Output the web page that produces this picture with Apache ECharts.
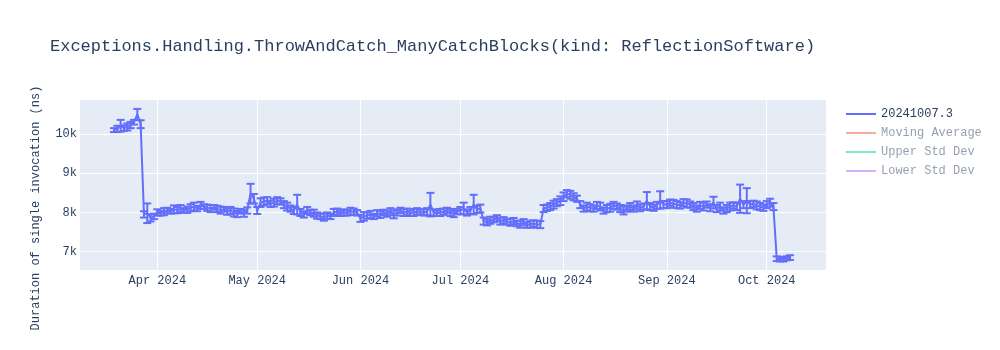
<!DOCTYPE html>
<html>
<head>
<meta charset="utf-8">
<script src="https://cdn.jsdelivr.net/npm/echarts@6/dist/echarts.min.js"></script>
<style>
html,body{margin:0;padding:0;background:#fff;}
#chart{width:1000px;height:350px;}
</style>
</head>
<body>
<div id="chart"></div>
<script>
// ---- data ----
const titleText = 'Exceptions.Handling.ThrowAndCatch_ManyCatchBlocks(kind: ReflectionSoftware)';
const yAxisTitle = 'Duration of single invocation (ns)';
const seriesName = '20241007.3';
const legendNames = ['20241007.3', 'Moving Average', 'Upper Std Dev', 'Lower Std Dev'];
const startDate = [2024, 2, 19]; // first day of the series (Mar 19 2024), one value per day

// Mar 19 - Mar 31
const valuesMar = [10100, 10130, 10210, 10150, 10180, 10230, 10300, 10500, 10250, 7950, 7980, 7860, 7900];
const errMar    = [50, 80, 150, 70, 90, 80, 60, 140, 100, 80, 250, 90, 70];
// Apr
const valuesApr = [8000, 7980, 8020, 8050, 8030, 8080, 8060, 8100, 8050, 8070, 8120, 8150, 8100, 8180, 8150,
                   8120, 8100, 8130, 8090, 8060, 8080, 8020, 8050, 8000, 7960, 8030, 7980, 8050, 8480, 8350];
const errApr    = [80, 60, 90, 70, 60, 100, 80, 90, 60, 80, 90, 100, 70, 90, 60,
                   80, 90, 60, 80, 90, 60, 80, 90, 100, 80, 60, 90, 80, 250, 120];
// May
const valuesMay = [8050, 8250, 8280, 8300, 8220, 8250, 8300, 8280, 8200, 8150, 8100, 8050, 8200, 8000, 7950, 8050,
                   8000, 7980, 7920, 7900, 7880, 7920, 7900, 8000, 8020, 7980, 8000, 7990, 8030, 8020, 7990];
const errMay    = [90, 110, 100, 90, 80, 100, 90, 80, 90, 100, 80, 90, 250, 90, 80, 90,
                   70, 90, 80, 70, 90, 80, 70, 90, 80, 70, 80, 70, 90, 80, 70];
// Jun
const valuesJun = [7850, 7900, 7920, 7950, 7900, 7980, 7950, 8000, 7970, 8020, 7950, 8000, 8050, 8000, 8020,
                   7980, 8000, 8030, 8010, 8000, 8020, 8200, 8000, 7980, 8000, 8020, 8050, 8000, 7960, 8020];
const errJun    = [90, 110, 80, 90, 70, 80, 90, 70, 80, 90, 100, 80, 70, 90, 80,
                   70, 90, 80, 70, 80, 90, 300, 80, 70, 90, 80, 70, 90, 80, 70];
// Jul
const valuesJul = [8050, 8100, 8000, 8050, 8200, 8080, 8100, 7780, 7750, 7800, 7820, 7850, 7780, 7800, 7760, 7750,
                   7780, 7720, 7700, 7750, 7680, 7700, 7720, 7700, 7690, 8100, 8120, 8150, 8200, 8250, 8300];
const errJul    = [90, 150, 80, 90, 250, 90, 100, 90, 80, 90, 70, 80, 90, 80, 70, 90,
                   80, 70, 90, 80, 70, 90, 80, 90, 90, 90, 80, 90, 100, 90, 110];
// Aug
const valuesAug = [8400, 8480, 8450, 8400, 8350, 8200, 8100, 8150, 8120, 8100, 8180, 8150, 8050, 8100, 8120, 8180,
                   8150, 8100, 8050, 8100, 8150, 8100, 8180, 8120, 8150, 8300, 8150, 8120, 8180, 8320, 8200];
const errAug    = [110, 90, 100, 90, 80, 90, 80, 100, 90, 80, 90, 100, 80, 90, 100, 90,
                   80, 90, 100, 80, 90, 80, 100, 90, 80, 220, 90, 80, 90, 220, 90];
// Sep
const valuesSep = [8200, 8250, 8220, 8200, 8180, 8250, 8230, 8200, 8150, 8100, 8180, 8150, 8200, 8120, 8250,
                   8100, 8150, 8050, 8100, 8150, 8180, 8150, 8350, 8200, 8300, 8200, 8220, 8180, 8150, 8120];
const errSep    = [90, 80, 100, 90, 80, 90, 100, 80, 90, 80, 90, 100, 80, 90, 150,
                   90, 100, 80, 90, 100, 80, 90, 360, 90, 320, 90, 80, 100, 90, 80];
// Oct 1 - Oct 8
const valuesOct = [8200, 8250, 8150, 6820, 6800, 6810, 6830, 6850];
const errOct    = [90, 100, 90, 60, 50, 60, 50, 60];

const yTicks = [7000, 8000, 9000, 10000];

// ---- build ----
const values = [].concat(valuesMar, valuesApr, valuesMay, valuesJun, valuesJul, valuesAug, valuesSep, valuesOct);
const errs = [].concat(errMar, errApr, errMay, errJun, errJul, errAug, errSep, errOct);
function pad(n){return (n<10?'0':'')+n;}
const dates = values.map((v, i) => {
  const d = new Date(startDate[0], startDate[1], startDate[2] + i);
  return d.getFullYear() + '-' + pad(d.getMonth()+1) + '-' + pad(d.getDate());
});
const lineData = values.map((v, i) => [dates[i], v]);
const errData = values.map((v, i) => [dates[i], v, errs[i]]);

const FONT = '"Liberation Mono", "Courier New", monospace';
const TXT = '#2a3f5f';
const MONTHS = ['Jan','Feb','Mar','Apr','May','Jun','Jul','Aug','Sep','Oct','Nov','Dec'];

const chart = echarts.init(document.getElementById('chart'), null, {renderer: 'canvas'});
chart.setOption({
  animation: false,
  textStyle: {fontFamily: FONT},
  title: {
    text: titleText, left: 45, top: 33,
    textStyle: {fontFamily: FONT, fontSize: 17, fontWeight: 'normal', color: TXT}
  },
  legend: {
    orient: 'vertical', left: 846, top: 107, padding: 0,
    itemWidth: 30, itemHeight: 2, itemGap: 5, icon: 'rect',
    textStyle: {fontFamily: FONT, fontSize: 12, color: TXT, lineHeight: 14, padding: [0,0,0,0]},
    data: [
      {name: legendNames[0]},
      {name: legendNames[1], textStyle: {color: 'rgba(42,63,95,0.5)'}},
      {name: legendNames[2], textStyle: {color: 'rgba(42,63,95,0.5)'}},
      {name: legendNames[3], textStyle: {color: 'rgba(42,63,95,0.5)'}}
    ],
    selectedMode: false
  },
  grid: {left: 80, right: 174, top: 100, bottom: 80, show: true, backgroundColor: '#e5ecf6', borderWidth: 0},
  xAxis: {
    type: 'time',
    min: new Date(2024, 2, 8, 19).getTime(),
    max: new Date(2024, 9, 18, 19).getTime(),
    minInterval: 28 * 86400000,
    axisLine: {show: false}, axisTick: {show: false},
    splitLine: {show: true, lineStyle: {color: '#fff', width: 1}, showMinLine: false, showMaxLine: false},
    axisLabel: {
      fontFamily: FONT, fontSize: 12, color: TXT, margin: 5,
      formatter: function (val) {
        const d = new Date(val);
        if (d.getDate() !== 1) return '';
        return MONTHS[d.getMonth()] + ' ' + d.getFullYear();
      }
    }
  },
  yAxis: {
    type: 'value', min: 6533, max: 10867,
    name: yAxisTitle, nameLocation: 'middle', nameRotate: 90, nameGap: 38,
    nameTextStyle: {fontFamily: FONT, fontSize: 12, color: TXT, padding: [0, 46, 0, 0]},
    axisLine: {show: false}, axisTick: {show: false},
    splitLine: {show: true, lineStyle: {color: '#fff', width: 1}, showMinLine: false, showMaxLine: false},
    axisLabel: {
      fontFamily: FONT, fontSize: 12, color: TXT, margin: 3, showMinLabel: false, showMaxLabel: false,
      formatter: function (v) { return yTicks.indexOf(v) >= 0 ? (v/1000) + 'k' : ''; }
    }
  },
  series: [
    {
      name: seriesName, type: 'line', data: lineData, showSymbol: false, symbol: 'none',
      lineStyle: {color: '#636efa', width: 2}, itemStyle: {color: '#636efa'}, z: 3
    },
    {
      type: 'custom', name: 'errors', data: errData, encode: {x: 0, y: 1}, clip: true, z: 2,
      renderItem: function (params, api) {
        const x = api.value(0), y = api.value(1), e = api.value(2);
        const lo = api.coord([x, y - e]);
        const hi = api.coord([x, y + e]);
        const w = 4;
        const st = {stroke: '#636efa', lineWidth: 2};
        return {
          type: 'group',
          children: [
            {type: 'line', shape: {x1: lo[0], y1: lo[1], x2: hi[0], y2: hi[1]}, style: st},
            {type: 'line', shape: {x1: lo[0]-w, y1: lo[1], x2: lo[0]+w, y2: lo[1]}, style: st},
            {type: 'line', shape: {x1: hi[0]-w, y1: hi[1], x2: hi[0]+w, y2: hi[1]}, style: st}
          ]
        };
      }
    },
    {name: legendNames[1], type: 'line', data: [], itemStyle: {color: 'rgba(239,85,59,0.5)'}, lineStyle: {color: 'rgba(239,85,59,0.5)'}},
    {name: legendNames[2], type: 'line', data: [], itemStyle: {color: 'rgba(0,204,150,0.5)'}, lineStyle: {color: 'rgba(0,204,150,0.5)'}},
    {name: legendNames[3], type: 'line', data: [], itemStyle: {color: 'rgba(171,99,250,0.5)'}, lineStyle: {color: 'rgba(171,99,250,0.5)'}}
  ]
});
</script>
</body>
</html>
